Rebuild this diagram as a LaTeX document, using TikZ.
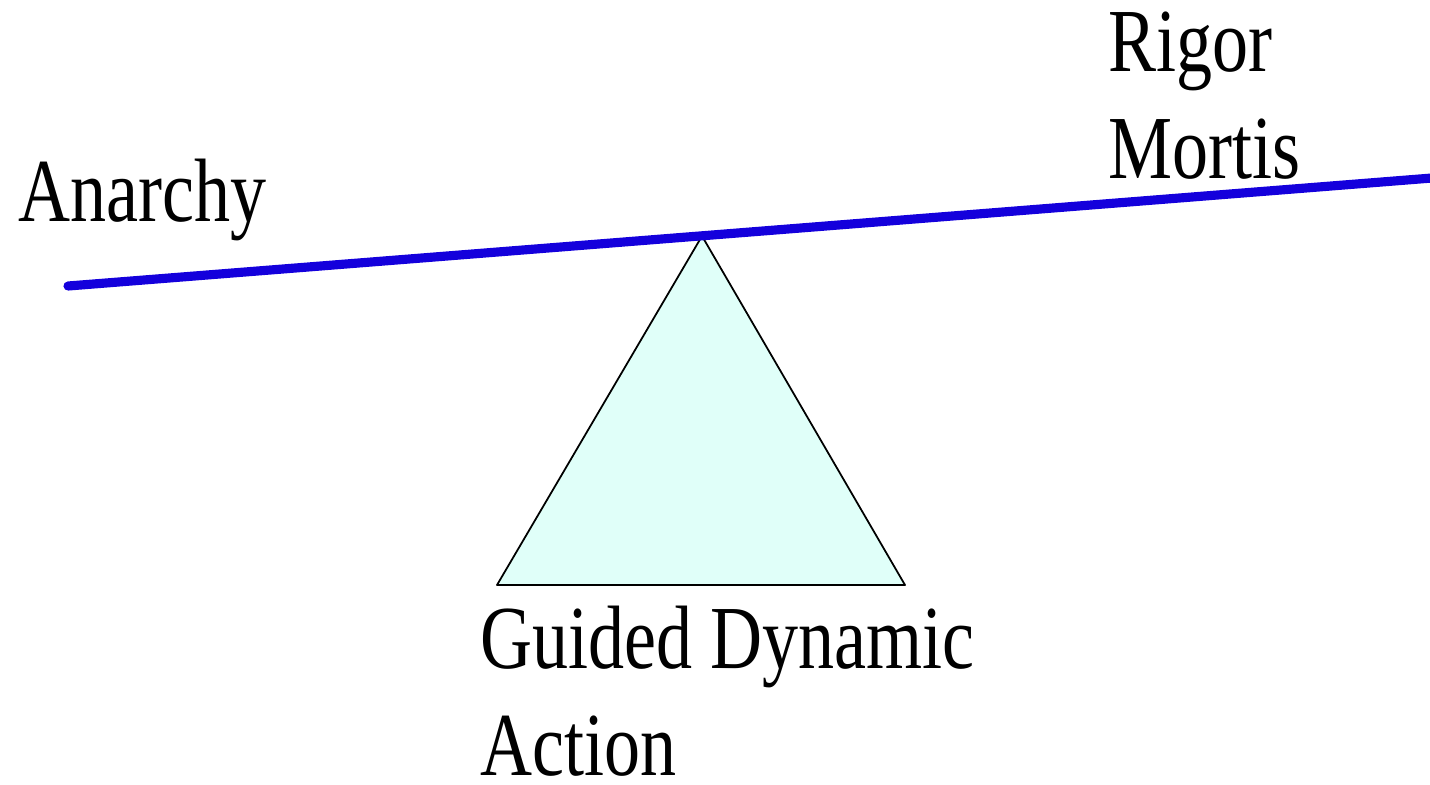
\documentclass[tikz,border=0pt]{standalone}
\usepackage{fontspec}
\setmainfont[FakeStretch=0.8]{Liberation Serif}
\definecolor{beamblue}{RGB}{20,0,220}
\definecolor{pivotfill}{RGB}{224,255,249}
\tikzset{
  word/.style={inner sep=0pt, anchor=base west, align=left,
    font=\fontsize{25.6pt}{30.2pt}\selectfont},
  beam/.style={draw=beamblue, line width=2.6pt, line cap=round},
  pivot/.style={draw=black, fill=pivotfill, line width=0.5pt, line join=round}
}
\begin{document}
\begin{tikzpicture}[x=0.01cm,y=-0.01cm]
    \useasboundingbox (0,0) rectangle (1430,784);

    % pivot and beam
    \coordinate (apex) at (702,236);
    \coordinate (baseL) at (497,585);
    \coordinate (baseR) at (905,585);
    \coordinate (beamL) at (68,286);
    \coordinate (beamR) at (1432,178);
    \draw[pivot] (apex) -- (baseL) -- (baseR) -- cycle;
    \draw[beam] (beamL) -- (beamR);

    % base anchor sits on the last line
    \node[word] (anarchy) at (18,221) {Anarchy};
    \node[word] (rigor) at (1108,178) {Rigor\\Mortis};
    \node[word] (guided) at (480,775) {Guided Dynamic\\Action};
  \end{tikzpicture}
\end{document}
